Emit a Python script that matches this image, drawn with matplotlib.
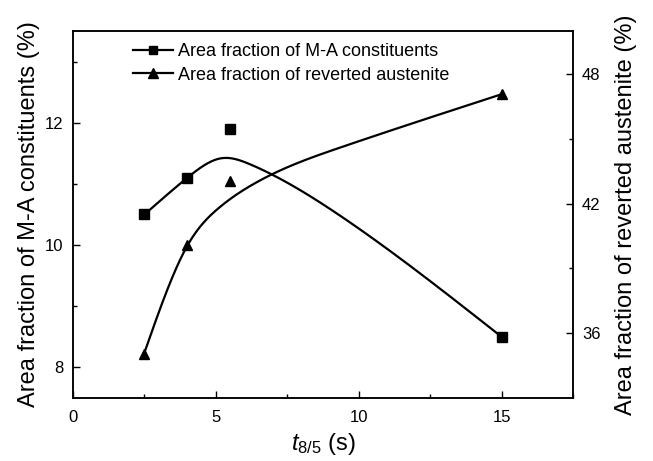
import numpy as np
import matplotlib
matplotlib.use("Agg")
import matplotlib.pyplot as plt
from matplotlib.lines import Line2D

plt.rcParams['font.family'] = ['Liberation Sans', 'DejaVu Sans']
plt.rcParams['mathtext.fontset'] = 'custom'
plt.rcParams['mathtext.rm'] = 'Liberation Sans'
plt.rcParams['mathtext.it'] = 'Liberation Sans:italic'

# measured points
t85 = [2.5, 4.0, 5.5, 15.0]
ma_fraction = [10.5, 11.1, 11.9, 8.5]
ra_fraction = [35.05, 40.1, 43.05, 47.1]

# trend curves as drawn in the figure
ma_curve_x = [2.5, 4.0, 5.2, 6.2, 9.35, 15.0]
ma_curve_y = [10.5, 11.1, 11.42, 11.32, 10.48, 8.5]
ra_curve_x = [2.5, 4.0, 5.03, 6.2, 9.35, 15.0]
ra_curve_y = [35.1, 40.05, 41.72, 42.82, 44.6, 47.07]


def natural_spline(xk, yk, xs):
    """Natural cubic spline through (xk, yk) evaluated at xs."""
    xk = np.asarray(xk, float)
    yk = np.asarray(yk, float)
    n = len(xk)
    h = np.diff(xk)
    A = np.zeros((n, n))
    b = np.zeros(n)
    A[0, 0] = A[-1, -1] = 1
    for i in range(1, n - 1):
        A[i, i - 1] = h[i - 1]
        A[i, i] = 2 * (h[i - 1] + h[i])
        A[i, i + 1] = h[i]
        b[i] = 6 * ((yk[i + 1] - yk[i]) / h[i] - (yk[i] - yk[i - 1]) / h[i - 1])
    M = np.linalg.solve(A, b)
    idx = np.clip(np.searchsorted(xk, xs) - 1, 0, n - 2)
    x0 = xk[idx]
    x1 = xk[idx + 1]
    hh = x1 - x0
    t0 = x1 - xs
    t1 = xs - x0
    return (M[idx] * t0 ** 3 / (6 * hh) + M[idx + 1] * t1 ** 3 / (6 * hh)
            + (yk[idx] / hh - M[idx] * hh / 6) * t0
            + (yk[idx + 1] / hh - M[idx + 1] * hh / 6) * t1)


fig = plt.figure(figsize=(6.53, 4.61), dpi=100)
ax = fig.add_axes([0.1118, 0.1367, 0.7657, 0.7961])
ax2 = ax.twinx()

xs = np.linspace(2.5, 15, 400)
ax.plot(xs, natural_spline(ma_curve_x, ma_curve_y, xs), color='black', linewidth=1.6)
ax.plot(t85, ma_fraction, linestyle='none', marker='s', markersize=6.5, color='black')
ax2.plot(xs, natural_spline(ra_curve_x, ra_curve_y, xs), color='black', linewidth=1.6)
ax2.plot(t85, ra_fraction, linestyle='none', marker='^', markersize=7.5, color='black')

ax.set_xlim(0, 17.5)
ax.set_ylim(7.5, 13.5)
ax2.set_ylim(33, 50)
ax.set_xticks([0, 5, 10, 15])
ax.set_xticks([2.5, 7.5, 12.5, 17.5], minor=True)
ax.set_yticks([8, 10, 12])
ax.set_yticks([9, 11, 13], minor=True)
ax2.set_yticks([36, 42, 48])
ax2.set_yticks([39, 45], minor=True)

ax.tick_params(which='both', direction='in', top=False, right=False, labelsize=12, width=1)
ax.tick_params(which='major', length=5)
ax.tick_params(which='minor', length=3)
ax.tick_params(axis='x', pad=9)
ax.tick_params(axis='y', pad=7)
ax2.tick_params(which='both', direction='in', labelsize=12, width=1, pad=6.5)
ax2.tick_params(which='major', length=5)
ax2.tick_params(which='minor', length=3)
for a in (ax, ax2):
    for s in a.spines.values():
        s.set_linewidth(1.1)

ax.set_xlabel(r'$t_{8/5}$ (s)', fontsize=17, labelpad=4)
ax.set_ylabel('Area fraction of M-A constituents (%)', fontsize=17, labelpad=3)
ax2.set_ylabel('Area fraction of reverted austenite (%)', fontsize=17, labelpad=10)

handles = [
    Line2D([], [], color='black', linewidth=1.6, marker='s', markersize=6),
    Line2D([], [], color='black', linewidth=1.6, marker='^', markersize=7),
]
ax.legend(handles, ['Area fraction of M-A constituents', 'Area fraction of reverted austenite'],
          loc='upper left', bbox_to_anchor=(0.088, 1.011), frameon=False, fontsize=13,
          handlelength=2.2, handletextpad=0.3, labelspacing=0.35, borderpad=0.4)

fig.savefig('out.png', dpi=100)
